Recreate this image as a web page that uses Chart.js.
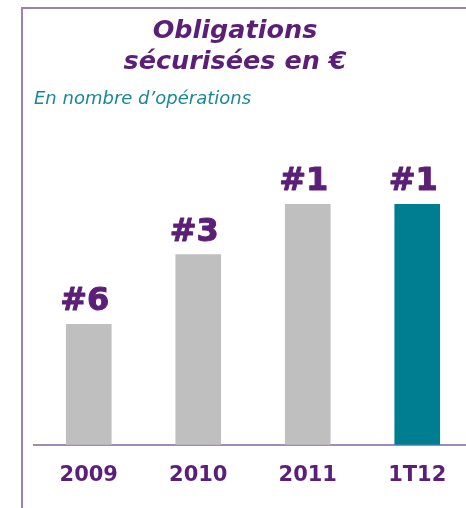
<!DOCTYPE html>
<html>
<head>
<meta charset="utf-8">
<script src="https://cdn.jsdelivr.net/npm/chart.js@4/dist/chart.umd.min.js"></script>
<style>
  html, body { margin:0; padding:0; width:466px; height:508px; overflow:hidden; background:#fff; }
  #wrap { position:relative; width:466px; height:508px; overflow:hidden; }
  #frame { position:absolute; left:21px; top:7px; width:460px; height:520px; border-left:2px solid #9b80b4; border-top:2px solid #9b80b4; box-sizing:border-box; }
  #title { position:absolute; left:0; top:14px; width:470px; text-align:center; font-family:"DejaVu Sans", Verdana, sans-serif; font-weight:bold; font-style:italic; font-size:25.5px; line-height:31px; color:#5b1f78; }
  #subtitle { position:absolute; left:34px; top:87px; font-family:"DejaVu Sans", Verdana, sans-serif; font-style:italic; font-size:18px; line-height:22px; color:#1a8796; white-space:nowrap; }
  #c { position:absolute; left:0; top:0; }
</style>
</head>
<body>
<div id="wrap">
  <div id="frame"></div>
  <canvas id="c" width="472" height="508"></canvas>
  <div id="title">Obligations<br>sécurisées en €</div>
  <div id="subtitle">En nombre d’opérations</div>
</div>
<script>
const categories = ['2009', '2010', '2011', '1T12'];
const barHeights = [50, 79, 100, 100];
const rankLabels = ['#6', '#3', '#1', '#1'];
const barColors = ['#bfbfbf', '#bfbfbf', '#bfbfbf', '#007e91'];

const rankPlugin = {
  id: 'rankLabels',
  afterDatasetsDraw(chart) {
    const ctx = chart.ctx;
    const meta = chart.getDatasetMeta(0);
    ctx.save();
    ctx.font = 'bold 32px "DejaVu Sans", Verdana, sans-serif';
    ctx.fillStyle = '#5b1f78';
    ctx.strokeStyle = '#5b1f78';
    ctx.lineWidth = 1;
    ctx.lineJoin = 'round';
    ctx.textAlign = 'center';
    ctx.textBaseline = 'alphabetic';
    meta.data.forEach((bar, i) => {
      ctx.fillText(rankLabels[i], bar.x - 4, bar.y - 14);
      ctx.strokeText(rankLabels[i], bar.x - 4, bar.y - 14);
    });
    ctx.restore();
  }
};

new Chart(document.getElementById('c'), {
  type: 'bar',
  data: {
    labels: categories,
    datasets: [{
      data: barHeights,
      backgroundColor: barColors,
      borderWidth: 0,
      barThickness: 45
    }]
  },
  options: {
    responsive: false,
    animation: false,
    layout: { padding: { left: 34, right: 0, top: 204, bottom: 2 } },
    plugins: { legend: { display: false }, tooltip: { enabled: false }, title: { display: false } },
    scales: {
      x: {
        grid: { display: false, drawTicks: false },
        border: { display: true, color: '#a08bb6', width: 2 },
        ticks: { color: '#5b1f78', font: { family: '"DejaVu Sans", Verdana, sans-serif', weight: 'bold', size: 21 }, padding: 18 }
      },
      y: { display: false, min: 0, max: 100 }
    }
  },
  plugins: [rankPlugin]
});
</script>
</body>
</html>
